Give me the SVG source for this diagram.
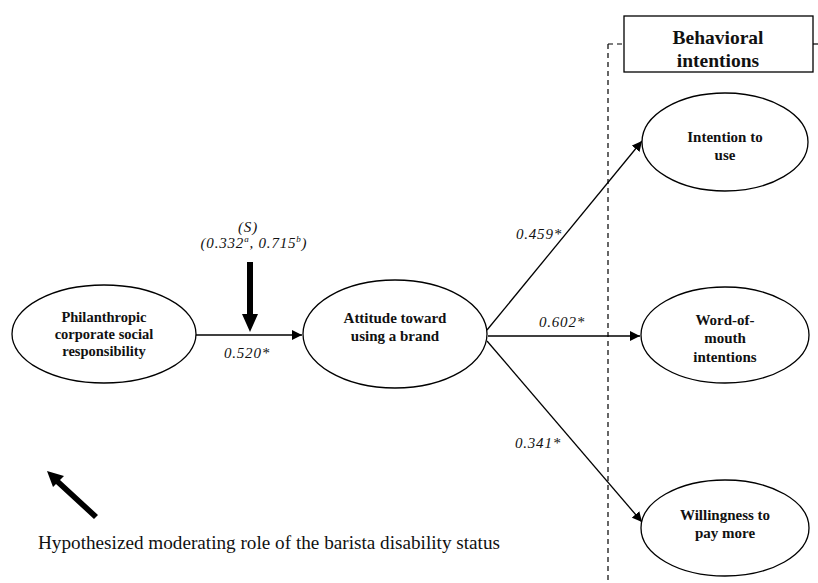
<svg xmlns="http://www.w3.org/2000/svg" width="818" height="583" viewBox="0 0 818 583">
<style>
.node{fill:#fff;stroke:#000;stroke-width:1.3}
.nt{font-family:"Liberation Serif","DejaVu Serif",serif;font-weight:bold;font-size:15px;text-anchor:middle;fill:#111}
.big{font-size:19.5px}
.p14{font-size:14.5px}
.lab{font-family:"Liberation Serif","DejaVu Serif",serif;font-style:italic;font-size:15px;letter-spacing:0.8px;text-anchor:middle;fill:#111}
.cap{font-family:"Liberation Serif","DejaVu Serif",serif;font-size:19.2px;fill:#111}
.conn{stroke:#000;stroke-width:1.3;fill:none}
.dash{stroke:#000;stroke-width:1.2;stroke-dasharray:5,4;fill:none}
</style>
<defs>
<marker id="ah" viewBox="0 0 10 10" refX="10" refY="5" markerWidth="10" markerHeight="10" markerUnits="userSpaceOnUse" orient="auto">
<path d="M0,0 L10,5 L0,10 z" fill="#000"/>
</marker>
</defs>
<rect width="818" height="583" fill="#fff"/>
<g id="connectors">
<line class="dash" x1="608" y1="44" x2="608" y2="583"/>
<line class="dash" x1="608" y1="44" x2="624" y2="44"/>
<line class="dash" x1="813" y1="44" x2="818" y2="44"/>
<line class="conn" x1="196" y1="335" x2="302" y2="335" marker-end="url(#ah)"/>
<line class="conn" x1="487" y1="330" x2="642" y2="141" marker-end="url(#ah)"/>
<line class="conn" x1="488" y1="336" x2="640" y2="336" marker-end="url(#ah)"/>
<line class="conn" x1="487" y1="341" x2="642" y2="522" marker-end="url(#ah)"/>
<path d="M247,262 L253,262 L253,314 L258,314 L250,332 L242,314 L247,314 z" fill="#000"/>
<path d="M98,515 L60,480 L64,476 L47,471 L53,487 L56,484 L94,519 z" fill="#000"/>
</g>
<g id="labels">
<text class="lab" x="248" y="232">(S)</text>
<text class="lab" x="254" y="248">(0.332<tspan style="font-size:9px" dy="-6">a</tspan><tspan dy="6">, 0.715</tspan><tspan style="font-size:9px" dy="-6">b</tspan><tspan dy="6">)</tspan></text>
<text class="lab" x="247" y="358">0.520*</text>
<text class="lab" x="539" y="239">0.459*</text>
<text class="lab" x="562" y="327">0.602*</text>
<text class="lab" x="538" y="448">0.341*</text>
<text class="cap" x="38" y="549">Hypothesized moderating role of the barista disability status</text>
</g>
<g id="behavioral-intentions">
<rect x="624" y="16" width="189" height="56" fill="#fff" stroke="#000" stroke-width="1.3"/>
<text class="nt big" x="718" y="44">Behavioral</text>
<text class="nt big" x="718" y="67">intentions</text>
</g>
<g id="philanthropic">
<ellipse class="node" cx="104" cy="334" rx="92" ry="49"/>
<text class="nt p14" x="104" y="322">Philanthropic</text>
<text class="nt p14" x="104" y="339">corporate social</text>
<text class="nt p14" x="104" y="356">responsibility</text>
</g>
<g id="attitude">
<ellipse class="node" cx="395" cy="334" rx="92" ry="54"/>
<text class="nt" x="395" y="323">Attitude toward</text>
<text class="nt" x="395" y="341">using a brand</text>
</g>
<g id="intention">
<ellipse class="node" cx="725" cy="142" rx="83" ry="49"/>
<text class="nt" x="725" y="142">Intention to</text>
<text class="nt" x="725" y="160">use</text>
</g>
<g id="wom">
<ellipse class="node" cx="725" cy="335" rx="84" ry="48"/>
<text class="nt" x="725" y="325">Word-of-</text>
<text class="nt" x="725" y="343">mouth</text>
<text class="nt" x="725" y="362">intentions</text>
</g>
<g id="willingness">
<ellipse class="node" cx="725" cy="528" rx="84" ry="48"/>
<text class="nt" x="725" y="520">Willingness to</text>
<text class="nt" x="725" y="538">pay more</text>
</g>
</svg>
